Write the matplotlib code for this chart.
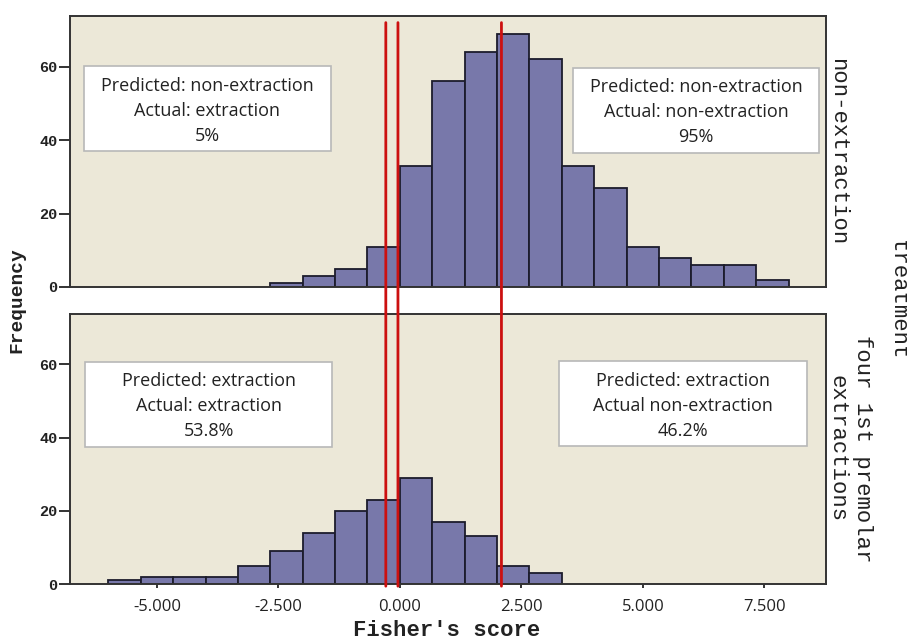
import numpy as np
import matplotlib
matplotlib.use("Agg")
import matplotlib.pyplot as plt
from matplotlib.patches import Rectangle, ConnectionPatch

# ---- data ----
top_edges = [-2.667, -2.0, -1.333, -0.667, 0.0, 0.667, 1.333, 2.0, 2.667,
             3.333, 4.0, 4.667, 5.333, 6.0, 6.667, 7.333, 8.0]
top_counts = [1, 3, 5, 11, 33, 56, 64, 69, 62, 33, 27, 11, 8, 6, 6, 2]
bottom_edges = [-6.0, -5.333, -4.667, -4.0, -3.333, -2.667, -2.0, -1.333,
                -0.667, 0.0, 0.667, 1.333, 2.0, 2.667, 3.333]
bottom_counts = [1, 2, 2, 2, 5, 9, 14, 20, 23, 29, 17, 13, 5, 3]
cutoffs = [-0.29, -0.04, 2.09]
x_ticks = [-5.0, -2.5, 0.0, 2.5, 5.0, 7.5]
x_tick_labels = ["-5.000", "-2.500", "0.000", "2.500", "5.000", "7.500"]
y_ticks = [0, 20, 40, 60]
y_tick_labels = ["0", "20", "40", "60"]
panel_labels = ["non-extraction", "four 1st premolar\nextractions"]
box_texts_top = ["Predicted: non-extraction\nActual: extraction\n5%",
                 "Predicted: non-extraction\nActual: non-extraction\n95%"]
box_texts_bottom = ["Predicted: extraction\nActual: extraction\n53.8%",
                    "Predicted: extraction\nActual non-extraction\n46.2%"]

BAR = "#7878aa"
BG = "#ece8d8"
EDGE = "#1c1c2c"
RED = "#cc1010"
MONO = "Liberation Mono"
SANS = "Open Sans"

W, H = 907, 643
fig = plt.figure(figsize=(W / 100, H / 100), dpi=100)

def frac(l, t, r, b):
    return [l / W, 1 - b / H, (r - l) / W, (b - t) / H]

ax1 = fig.add_axes(frac(70, 16, 826, 287))
ax2 = fig.add_axes(frac(70, 314, 826, 584))

xlim = (-6.79, 8.77)
ylim = (0, 73.8)

for ax, edges, counts in [(ax1, top_edges, top_counts), (ax2, bottom_edges, bottom_counts)]:
    ax.set_facecolor(BG)
    ax.bar(edges[:-1], counts, width=np.diff(edges), align="edge",
           color=BAR, edgecolor=EDGE, linewidth=1.3, zorder=2)
    ax.set_xlim(*xlim)
    ax.set_ylim(*ylim)
    ax.set_yticks(y_ticks)
    ax.set_yticklabels(y_tick_labels, fontfamily=MONO, fontweight="bold", fontsize=11, color="#222222")
    ax.tick_params(axis="y", direction="out", length=8, width=1.4, pad=1, color="#333333")
    for s in ax.spines.values():
        s.set_color("#333333")
        s.set_linewidth(1.4)

ax1.set_xticks([])
ax2.set_xticks(x_ticks)
ax2.set_xticklabels(x_tick_labels, fontfamily=SANS, fontsize=12, color="#222222")
ax2.tick_params(axis="x", direction="out", length=3, width=1.4, pad=8, color="#333333")

# annotation boxes (axes fraction coords)
def box(ax, l, b, r, t, txt):
    ax.add_patch(Rectangle((l, b), r - l, t - b, transform=ax.transAxes,
                           facecolor="white", edgecolor="#b8b8b8", linewidth=1.2, zorder=4))
    ax.text((l + r) / 2, (b + t) / 2 - 0.008, txt, transform=ax.transAxes, ha="center", va="center",
            fontfamily=SANS, fontsize=13, color="#222222", linespacing=1.5, zorder=5)

box(ax1, 0.0185, 0.503, 0.345, 0.8155, box_texts_top[0])
box(ax1, 0.665, 0.4956, 0.991, 0.809, box_texts_top[1])
box(ax2, 0.0203, 0.509, 0.3466, 0.822, box_texts_bottom[0])
box(ax2, 0.647, 0.511, 0.975, 0.826, box_texts_bottom[1])

# cutoff lines spanning both panels
for c in cutoffs:
    con = ConnectionPatch(xyA=(c, 72), coordsA=ax1.transData,
                          xyB=(c, -0.6), coordsB=ax2.transData,
                          color=RED, linewidth=2.0, zorder=10)
    fig.add_artist(con)

# right-side panel labels
fig.text(838 / W, 1 - 151.5 / H, panel_labels[0], rotation=270, ha="center", va="center",
         fontfamily=MONO, fontsize=16, color="#222222")
fig.text(849.5 / W, 1 - 449 / H, panel_labels[1], rotation=270, ha="center", va="center",
         fontfamily=MONO, fontsize=16, color="#222222", linespacing=1.25)
fig.text(897 / W, 1 - 300 / H, "treatment", rotation=270, ha="center", va="center",
         fontfamily=MONO, fontsize=16, color="#222222")

fig.text(17 / W, 1 - 300 / H, "Frequency", rotation=90, ha="center", va="center",
         fontfamily=MONO, fontweight="bold", fontsize=14, color="#222222")
fig.text(447 / W, 1 - 630 / H, "Fisher's score", ha="center", va="center",
         fontfamily=MONO, fontweight="bold", fontsize=16, color="#222222")

fig.savefig("out.png", dpi=100, facecolor="white")
